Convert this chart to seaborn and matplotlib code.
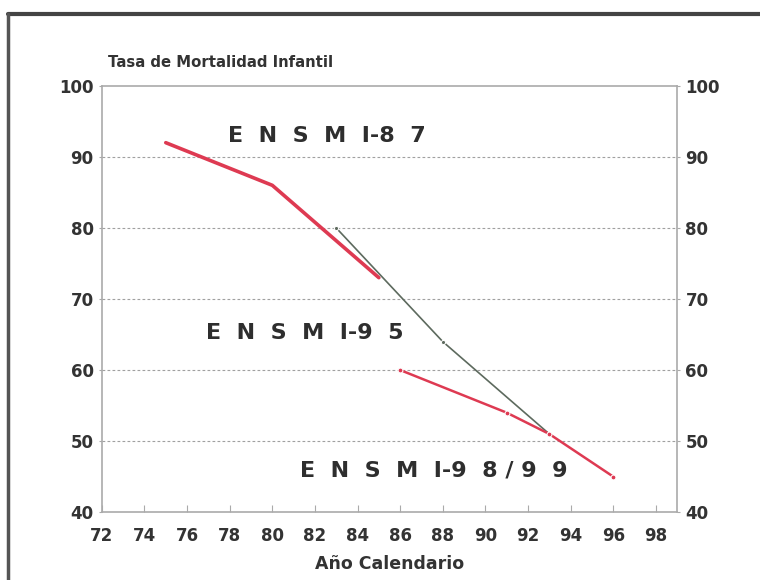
import numpy as np
import pandas as pd
import seaborn as sns
import matplotlib.pyplot as plt
from matplotlib.lines import Line2D

# Data
years_87 = [75, 80, 85]
tmi_87 = [92, 86, 73]
years_95 = [83, 88, 93]
tmi_95 = [80, 64, 51]
years_98 = [86, 91, 93, 96]
tmi_98 = [60, 54, 51, 45]
x_ticks = list(range(72, 99, 2))
y_ticks = [40, 50, 60, 70, 80, 90, 100]

df = pd.concat([
    pd.DataFrame({"anio": years_87, "tmi": tmi_87, "encuesta": "ENSMI-87"}),
    pd.DataFrame({"anio": years_95, "tmi": tmi_95, "encuesta": "ENSMI-95"}),
    pd.DataFrame({"anio": years_98, "tmi": tmi_98, "encuesta": "ENSMI-98/99"}),
])

sns.set_style("white")
plt.rcParams["font.family"] = ["DejaVu Sans"]

fig = plt.figure(figsize=(7.6, 5.8), dpi=100)
ax = fig.add_axes([0.134, 0.117, 0.757, 0.735])

red = "#de3a52"
dark = "#5d6a5e"
sns.lineplot(data=df[df.encuesta == "ENSMI-87"], x="anio", y="tmi", color=red,
             linewidth=2.6, ax=ax)
sns.lineplot(data=df[df.encuesta == "ENSMI-95"], x="anio", y="tmi", color=dark,
             linewidth=1.2, marker="o", markersize=3, ax=ax)
sns.lineplot(data=df[df.encuesta == "ENSMI-98/99"], x="anio", y="tmi", color=red,
             linewidth=1.8, marker="o", markersize=3.5, ax=ax)

ax.set_xlim(72, 99)
ax.set_ylim(40, 100)
ax.set_xticks(x_ticks)
ax.set_yticks(y_ticks)
ax.set_xticklabels([str(t) for t in x_ticks])
ax.set_yticklabels([str(t) for t in y_ticks])

for y in y_ticks[1:-1]:
    ax.axhline(y, color="#a0a0a0", linestyle=(0, (2.5, 2)), linewidth=0.8, zorder=0)

for s in ax.spines.values():
    s.set_color("#aaaaaa")
    s.set_linewidth(1.2)

ax.tick_params(axis="y", left=True, right=True, labelright=True, direction="out",
               length=2, color="#aaaaaa", labelsize=12, labelcolor="#333333", pad=4)
ax.tick_params(axis="x", bottom=True, direction="in", length=5, color="#aaaaaa",
               labelsize=12, labelcolor="#333333", pad=11)
for lab in ax.get_xticklabels() + ax.get_yticklabels():
    lab.set_fontweight("bold")

ax.set_xlabel("Año Calendario", fontsize=12.5, fontweight="bold", color="#333333",
              labelpad=7)
ax.set_ylabel("")

fig.text(0.142, 0.893, "Tasa de Mortalidad Infantil", fontsize=10.7,
         fontweight="bold", color="#333333", ha="left", va="center")

lab_kw = dict(fontsize=16, fontweight="bold", color="#2e2e2e", va="center", ha="left")
ax.text(77.9, 93.0, "E  N  S  M  I-8  7", **lab_kw)
ax.text(76.9, 65.2, "E  N  S  M  I-9  5", **lab_kw)
ax.text(81.3, 45.8, "E  N  S  M  I-9  8 / 9  9", **lab_kw)

# page frame lines
fig.add_artist(Line2D([0.010, 1.0], [0.976, 0.976], color="#444444", linewidth=3,
                      transform=fig.transFigure))
fig.add_artist(Line2D([0.011, 0.011], [0.0, 0.976], color="#555555", linewidth=2.5,
                      transform=fig.transFigure))

fig.savefig("out.png", dpi=100)
